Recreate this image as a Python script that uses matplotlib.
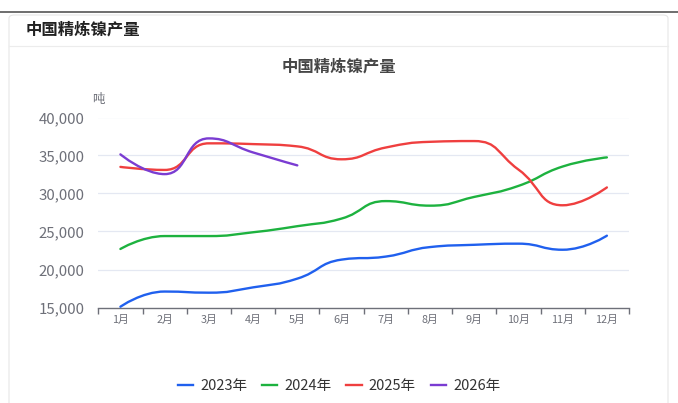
import matplotlib
matplotlib.use('Agg')
import matplotlib.pyplot as plt
from matplotlib.path import Path
from matplotlib.patches import PathPatch, FancyBboxPatch
from matplotlib.lines import Line2D
import numpy as np

plt.rcParams['font.family'] = ['Noto Sans CJK SC', 'DejaVu Sans']

months = [f'{i}月' for i in range(1, 13)]
series_names = ['2023年', '2024年', '2025年', '2026年']
y2023 = [15100, 17100, 16950, 17650, 18800, 21300, 21700, 22950, 23250, 23400, 22600, 24450]
y2024 = [22700, 24400, 24400, 24900, 25700, 26700, 29000, 28400, 29550, 31000, 33550, 34750]
y2025 = [33500, 33100, 36600, 36500, 36200, 34500, 36050, 36800, 36900, 33150, 28450, 30800]
y2026 = [35150, 32550, 37250, 35400, 33700]
colors = ['#2060ee', '#1db23f', '#ef3f3f', '#7a3cd2']
yticks = [15000, 20000, 25000, 30000, 35000, 40000]

W, H = 678, 403
fig = plt.figure(figsize=(W / 100, H / 100), dpi=100)

def px(x, y):
    return x / W, 1 - y / H

# page decorations
fig.add_artist(Line2D([0, 1], [1 - 12 / H, 1 - 12 / H], color='#555555', lw=1.2))
card = FancyBboxPatch(px(9, 420), 659 / W, (420 - 15) / H,
                      boxstyle='round,pad=0,rounding_size=0.008',
                      transform=fig.transFigure, facecolor='white',
                      edgecolor='#e6e6e6', lw=0.8, zorder=0)
fig.add_artist(card)
fig.add_artist(Line2D([9 / W, 668 / W], [1 - 46 / H, 1 - 46 / H], color='#ececec', lw=0.8))
fig.text(*px(26, 30), '中国精炼镍产量', fontsize=11.8, fontweight='bold', color='#222222', va='center', ha='left')
fig.text(*px(339, 67), '中国精炼镍产量', fontsize=11.8, fontweight='bold', color='#464646', va='center', ha='center')

left, right, top, bottom = 98.3, 629, 117.5, 307.5
ax = fig.add_axes([left / W, 1 - bottom / H, (right - left) / W, (bottom - top) / H])
ax.set_xlim(0, 12)
ax.set_ylim(15000, 40000)
for s in ['top', 'right', 'left']:
    ax.spines[s].set_visible(False)
ax.spines['bottom'].set_color('#6e7079')
ax.spines['bottom'].set_linewidth(1.0)
ax.set_yticks(yticks)
ax.set_yticklabels([f'{v:,}' for v in yticks])
ax.tick_params(axis='y', length=0, pad=10, labelsize=10.8, labelcolor='#6e7079')
ax.set_xticks(np.arange(0, 13))
ax.set_xticklabels([])
ax.set_xticks(np.arange(12) + 0.5, minor=True)
ax.set_xticklabels(months, minor=True)
ax.tick_params(axis='x', which='major', length=4, color='#6e7079', width=1.0)
ax.tick_params(axis='x', which='minor', length=0, pad=5, labelsize=7.8, labelcolor='#6e7079')
for v in yticks[1:]:
    ax.axhline(v, color='#e4e8f2', lw=0.9, zorder=0)
ax.text(-0.0, 1.06, '吨', transform=ax.transAxes, fontsize=9, color='#6e7079', ha='center', va='bottom')


def smooth_path(xs, ys, smooth=0.5):
    pts = ax.transData.transform(np.column_stack([xs, ys]))
    n = len(pts)
    cps_prev = [None] * n
    cps_next = [None] * n
    for i in range(n):
        p = pts[i]
        if i == 0 or i == n - 1:
            cps_prev[i] = p.copy()
            cps_next[i] = p.copy()
            continue
        prev, nxt = pts[i - 1], pts[i + 1]
        x, y = p
        v = nxt - prev
        l0 = np.hypot(*(p - prev))
        l1 = np.hypot(*(nxt - p))
        r = l1 / (l0 + l1)
        ncx = x + v[0] * smooth * r
        ncy = y + v[1] * smooth * r
        ncx = min(ncx, max(nxt[0], x)); ncy = min(ncy, max(nxt[1], y))
        ncx = max(ncx, min(nxt[0], x)); ncy = max(ncy, min(nxt[1], y))
        vx, vy = ncx - x, ncy - y
        cx = x - vx * l0 / l1
        cy = y - vy * l0 / l1
        cx = min(cx, max(prev[0], x)); cy = min(cy, max(prev[1], y))
        cx = max(cx, min(prev[0], x)); cy = max(cy, min(prev[1], y))
        vx, vy = x - cx, y - cy
        ncx = x + vx * l1 / l0
        ncy = y + vy * l1 / l0
        cps_prev[i] = np.array([cx, cy])
        cps_next[i] = np.array([ncx, ncy])
    verts = [pts[0]]
    codes = [Path.MOVETO]
    for i in range(n - 1):
        verts += [cps_next[i], cps_prev[i + 1], pts[i + 1]]
        codes += [Path.CURVE4] * 3
    verts = ax.transData.inverted().transform(np.array(verts))
    return Path(verts, codes)


all_series = [y2023, y2024, y2025, y2026]
handles = []
for name, data, c in zip(series_names, all_series, colors):
    xs = np.arange(len(data)) + 0.5
    path = smooth_path(xs, data)
    ax.add_patch(PathPatch(path, facecolor='none', edgecolor=c, lw=1.7, capstyle='round', zorder=3))
    handles.append(Line2D([], [], color=c, lw=1.7))

fig.legend(handles, series_names, loc='center', bbox_to_anchor=px(339, 386), ncol=4,
           frameon=False, fontsize=10.5, handlelength=1.05, handletextpad=0.5,
           columnspacing=1.0, labelcolor='#333333')

fig.savefig('out.png', dpi=100)
